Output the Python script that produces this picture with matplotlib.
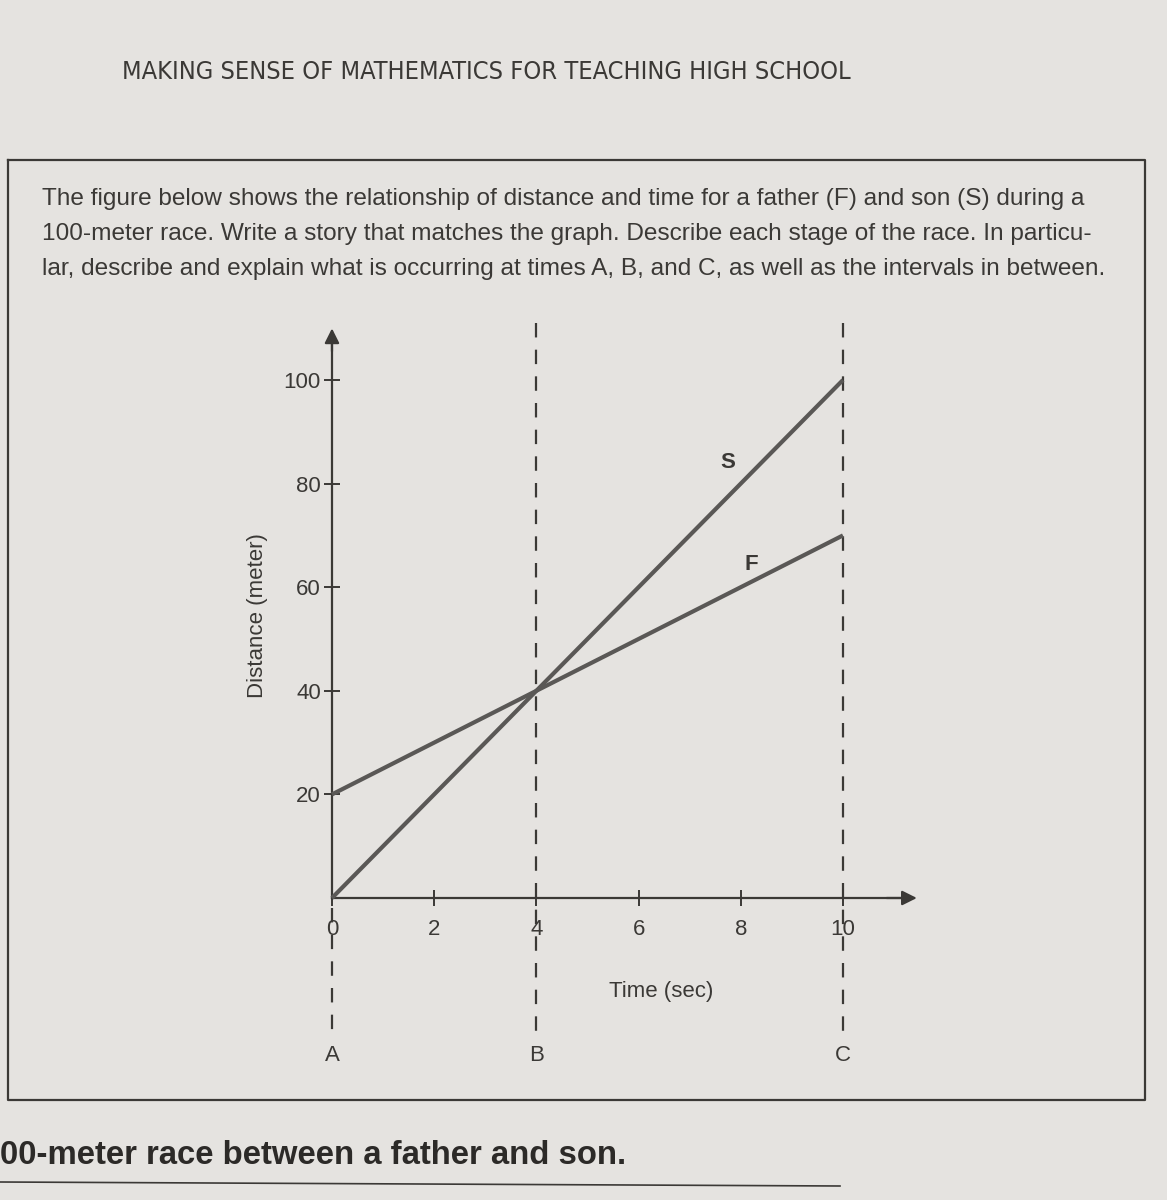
import matplotlib.pyplot as plt

# race data
time = [0, 10]
son = [0, 100]
father = [20, 70]
x_ticks = [0, 2, 4, 6, 8, 10]
y_ticks = [20, 40, 60, 80, 100]
moments = [0, 4, 10]
moment_labels = ['A', 'B', 'C']

paper = '#e5e3e0'
ink = '#3b3936'
line_col = '#5a5856'
sans = 'Liberation Sans'

fig = plt.figure(figsize=(11.67, 12), dpi=100, facecolor=paper)

# page layer in pixel coordinates
page = fig.add_axes([0, 0, 1, 1])
page.set_xlim(0, 1167)
page.set_ylim(1200, 0)
page.axis('off')
page.set_facecolor(paper)

page.text(122, 72, 'MAKING SENSE OF MATHEMATICS FOR TEACHING HIGH SCHOOL',
          fontsize=18.2, family='DejaVu Sans', fontstretch='condensed',
          color=ink, va='center', ha='left')

# the boxed exercise
page.plot([8, 1145, 1145, 8, 8], [160, 160, 1100, 1100, 160], color=ink, lw=1.6)

para = ['The figure below shows the relationship of distance and time for a father (F) and son (S) during a',
        '100-meter race. Write a story that matches the graph. Describe each stage of the race. In particu-',
        'lar, describe and explain what is occurring at times A, B, and C, as well as the intervals in between.']
for i, line in enumerate(para):
    page.text(42, 199 + i * 35, line, fontsize=17.6, family=sans,
              color=ink, va='center', ha='left')

page.text(0, 1156, '00-meter race between a father and son.', fontsize=23.7,
          family=sans, weight='bold', color='#2c2a28', va='center', ha='left')
page.plot([0, 840], [1182, 1186], color=ink, lw=1.2)

# the graph
ax = fig.add_axes([0.1969, 0.079, 0.6130, 0.6734])
ax.set_xlim(-2, 12)
ax.set_ylim(-40, 116)
ax.patch.set_alpha(0)
for side in ['top', 'right']:
    ax.spines[side].set_visible(False)
ax.spines['left'].set_position(('data', 0))
ax.spines['bottom'].set_position(('data', 0))
ax.spines['left'].set_bounds(0, 109)
ax.spines['bottom'].set_bounds(0, 11.2)
for side in ['left', 'bottom']:
    ax.spines[side].set_color(ink)
    ax.spines[side].set_linewidth(1.6)

ax.annotate('', xy=(0, 110.5), xytext=(0, 105),
            arrowprops=dict(arrowstyle='-|>', color=ink, lw=1.6, mutation_scale=22))
ax.annotate('', xy=(11.5, 0), xytext=(10.8, 0),
            arrowprops=dict(arrowstyle='-|>', color=ink, lw=1.6, mutation_scale=22))

ax.set_xticks(x_ticks)
ax.set_yticks(y_ticks)
ax.tick_params(direction='inout', length=12, width=1.4, color=ink,
               labelsize=16, labelcolor=ink)
ax.tick_params(axis='y', pad=2)
ax.tick_params(axis='x', pad=9)
for lab in ax.get_xticklabels() + ax.get_yticklabels():
    lab.set_family(sans)

ax.plot(time, son, color=line_col, lw=3, solid_capstyle='butt', zorder=3)
ax.plot(time, father, color=line_col, lw=3, solid_capstyle='butt', zorder=3)
ax.text(7.75, 84, 'S', fontsize=16, family=sans, weight='bold', color=ink, ha='center', va='center')
ax.text(8.2, 64.3, 'F', fontsize=16, family=sans, weight='bold', color=ink, ha='center', va='center')

for t, lab in zip(moments, moment_labels):
    top = -2 if t == 0 else 111
    ax.plot([t, t], [top, -26], color=ink, lw=1.6, dashes=(6.5, 5.5), clip_on=False, zorder=1)
    ax.text(t, -30.5, lab, fontsize=16, family=sans, color=ink, ha='center', va='center')

ax.text(-1.45, 54.6, 'Distance (meter)', rotation=90, fontsize=16, family=sans,
        color=ink, ha='center', va='center')
ax.text(6.45, -18, 'Time (sec)', fontsize=16, family=sans, color=ink,
        ha='center', va='center')

fig.savefig('out.png', dpi=100, facecolor=paper)
